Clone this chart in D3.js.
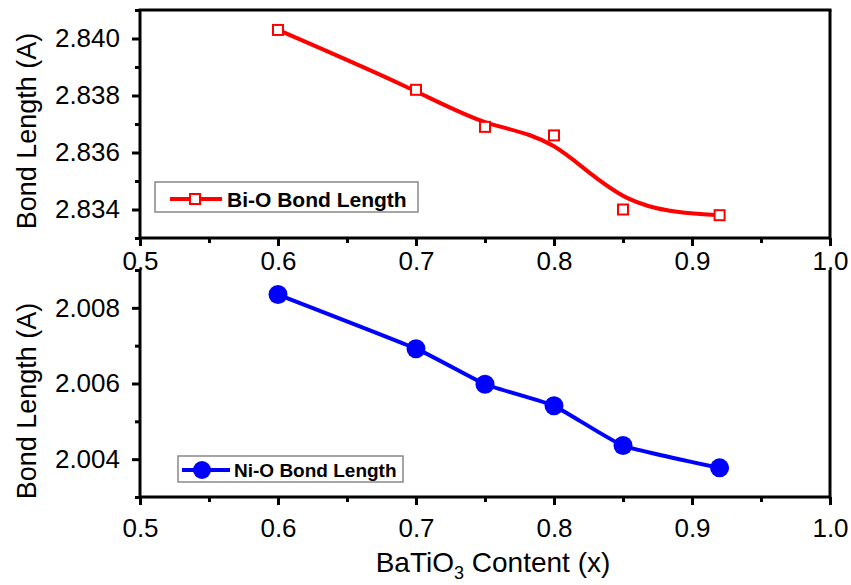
<!DOCTYPE html>
<html>
<head>
<meta charset="utf-8">
<script src="https://cdn.jsdelivr.net/npm/d3@7"></script>
<style>
  html, body { margin: 0; padding: 0; background: #fff; }
  svg text { font-family: "Liberation Sans", Arial, sans-serif; fill: #000; }
</style>
</head>
<body>
<div id="chart"></div>
<script>
// data
const xContent = [0.6, 0.7, 0.75, 0.8, 0.85, 0.92];
const biO = [2.8403, 2.8382, 2.8369, 2.8366, 2.8340, 2.8338];
const niO = [2.00835, 2.00692, 2.00598, 2.00541, 2.00436, 2.00377];

const xMajor = [0.5, 0.6, 0.7, 0.8, 0.9, 1.0];
const xMinor = [0.55, 0.65, 0.75, 0.85, 0.95];
const yTopMajor = [2.834, 2.836, 2.838, 2.840];
const yTopMinor = [2.833, 2.835, 2.837, 2.839, 2.841];
const yBotMajor = [2.004, 2.006, 2.008];
const yBotMinor = [2.003, 2.005, 2.007, 2.009];

const width = 851, height = 585;
const left = 140, right = 830;

const svg = d3.select("#chart")
  .append("svg")
    .attr("width", width)
    .attr("height", height);

const x = d3.scaleLinear().domain([0.5, 1.0]).range([left, right]);
const yTop = d3.scaleLinear().domain([2.833, 2.841]).range([238, 10]);
const yBot = d3.scaleLinear().domain([2.003, 2.009]).range([497, 270]);

const styleAxis = g => {
  g.select(".domain").remove();
  g.selectAll("line").attr("stroke", "#000").attr("stroke-width", 3);
};

const drawPanel = (y, major, minor, yFmt, labelDy, framed) => {
  const [yb, yt] = y.range();
  // x ticks
  svg.append("g")
    .attr("transform", `translate(0,${yb})`)
    .call(d3.axisBottom(x).tickValues(xMajor).tickSize(8).tickPadding(labelDy).tickFormat(d3.format(".1f")))
    .call(styleAxis)
    .selectAll("text").style("font-size", "26px");
  svg.append("g")
    .attr("transform", `translate(0,${yb})`)
    .call(d3.axisBottom(x).tickValues(xMinor).tickSize(5).tickFormat(""))
    .call(styleAxis);
  // y ticks
  svg.append("g")
    .attr("transform", `translate(${left},0)`)
    .call(d3.axisLeft(y).tickValues(major).tickSize(8).tickPadding(12).tickFormat(d3.format(yFmt)))
    .call(styleAxis)
    .selectAll("text").style("font-size", "26px");
  svg.append("g")
    .attr("transform", `translate(${left},0)`)
    .call(d3.axisLeft(y).tickValues(minor).tickSize(5).tickFormat(""))
    .call(styleAxis);
  // frame
  const frame = svg.append("g").attr("stroke", "#000").attr("stroke-width", 3).attr("fill", "none");
  frame.append("line").attr("x1", left).attr("x2", right).attr("y1", yb).attr("y2", yb);
  frame.append("line").attr("x1", left).attr("x2", left).attr("y1", yb).attr("y2", yt);
  frame.append("line").attr("x1", right).attr("x2", right).attr("y1", yb + 1.5).attr("y2", yt);
  if (framed) {
    frame.append("line").attr("x1", left - 1.5).attr("x2", right + 1.5).attr("y1", yt).attr("y2", yt);
  }
};

drawPanel(yTop, yTopMajor, yTopMinor, ".3f", 6, true);
drawPanel(yBot, yBotMajor, yBotMinor, ".3f", 14, false);

// y titles
[[131], [401]].forEach(([cy]) => {
  svg.append("text")
    .attr("transform", `translate(27,${cy}) rotate(-90)`)
    .attr("text-anchor", "middle")
    .attr("dominant-baseline", "central")
    .style("font-size", "27px")
    .text("Bond Length (A)");
});

// x title
const xt = svg.append("text")
  .attr("x", 493)
  .attr("y", 572)
  .attr("text-anchor", "middle")
  .style("font-size", "28px");
xt.append("tspan").text("BaTiO");
xt.append("tspan").attr("dy", 7).style("font-size", "18px").text("3");
xt.append("tspan").attr("dy", -7).text(" Content (x)");

// Bi-O series
const pts = xContent.map((d, i) => [d, biO[i]]);
svg.append("path")
  .datum(pts)
  .attr("fill", "none")
  .attr("stroke", "#ff0000")
  .attr("stroke-width", 4)
  .attr("d", d3.line().x(d => x(d[0])).y(d => yTop(d[1])).curve(d3.curveBasis));
svg.append("g")
  .selectAll("rect")
  .data(pts)
  .join("rect")
    .attr("x", d => x(d[0]) - 5)
    .attr("y", d => yTop(d[1]) - 5)
    .attr("width", 10)
    .attr("height", 10)
    .attr("fill", "#fff")
    .attr("stroke", "#ff0000")
    .attr("stroke-width", 2);

// Ni-O series
const pts2 = xContent.map((d, i) => [d, niO[i]]);
svg.append("path")
  .datum(pts2)
  .attr("fill", "none")
  .attr("stroke", "#0000ff")
  .attr("stroke-width", 4)
  .attr("d", d3.line().x(d => x(d[0])).y(d => yBot(d[1])).curve(d3.curveCardinal.tension(0.6)));
svg.append("g")
  .selectAll("circle")
  .data(pts2)
  .join("circle")
    .attr("cx", d => x(d[0]))
    .attr("cy", d => yBot(d[1]))
    .attr("r", 9.5)
    .attr("fill", "#0000ff");

// legends
const legTop = svg.append("g");
legTop.append("rect").attr("x", 155).attr("y", 182).attr("width", 263).attr("height", 30)
  .attr("fill", "#fff").attr("stroke", "#888").attr("stroke-width", 1.5);
legTop.append("line").attr("x1", 170).attr("x2", 222).attr("y1", 199).attr("y2", 199)
  .attr("stroke", "#ff0000").attr("stroke-width", 4);
legTop.append("rect").attr("x", 190).attr("y", 194).attr("width", 10).attr("height", 10)
  .attr("fill", "#fff").attr("stroke", "#ff0000").attr("stroke-width", 2);
legTop.append("text").attr("x", 227).attr("y", 199).attr("dominant-baseline", "central")
  .style("font-size", "21px").style("font-weight", "bold").text("Bi-O Bond Length");

const legBot = svg.append("g");
legBot.append("rect").attr("x", 178).attr("y", 456).attr("width", 225).attr("height", 26)
  .attr("fill", "#fff").attr("stroke", "#888").attr("stroke-width", 1.5);
legBot.append("line").attr("x1", 182).attr("x2", 230).attr("y1", 470).attr("y2", 470)
  .attr("stroke", "#0000ff").attr("stroke-width", 4);
legBot.append("circle").attr("cx", 202).attr("cy", 470).attr("r", 9)
  .attr("fill", "#0000ff");
legBot.append("text").attr("x", 234).attr("y", 470).attr("dominant-baseline", "central")
  .style("font-size", "19px").style("font-weight", "bold").text("Ni-O Bond Length");
</script>
</body>
</html>
